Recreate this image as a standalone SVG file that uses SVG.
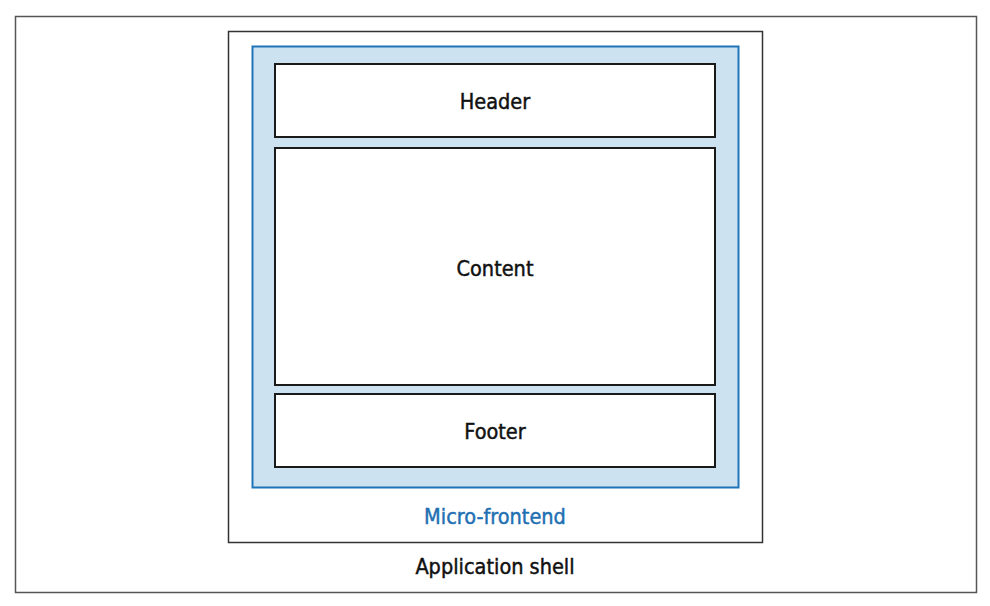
<svg xmlns="http://www.w3.org/2000/svg" width="990" height="606" viewBox="0 0 990 606">
<style>
.t{font-family:"DejaVu Sans Condensed","Liberation Sans Narrow","Liberation Sans",sans-serif;font-stretch:condensed;font-size:21.5px;text-anchor:middle;fill:#111;stroke:#111;stroke-width:0.45px}
.box{fill:#fff;stroke:#1a1a1a;stroke-width:2}
</style>
<rect width="990" height="606" fill="#fff"/>
<g id="frame"><rect x="15.5" y="16.5" width="961" height="576" fill="#fff" stroke="#555" stroke-width="1.5"/></g>
<g id="app-shell">
<rect x="228.5" y="31.5" width="534" height="511" fill="#fff" stroke="#333" stroke-width="1.5"/>
<text class="t" x="495" y="574">Application shell</text>
</g>
<g id="micro-frontend">
<rect x="252.5" y="46.5" width="486" height="441" fill="#cce2f1" stroke="#1f74b8" stroke-width="2"/>
<text class="t" x="495" y="524" style="fill:#1f6fb3;stroke:#1f6fb3">Micro-frontend</text>
</g>
<g id="header">
<rect class="box" x="275" y="64" width="440" height="73"/>
<text class="t" x="495" y="109">Header</text>
</g>
<g id="content">
<rect class="box" x="275" y="148" width="440" height="237"/>
<text class="t" x="495" y="276">Content</text>
</g>
<g id="footer">
<rect class="box" x="275" y="394" width="440" height="73"/>
<text class="t" x="495" y="439">Footer</text>
</g>
<g id="connectors"/>
</svg>
